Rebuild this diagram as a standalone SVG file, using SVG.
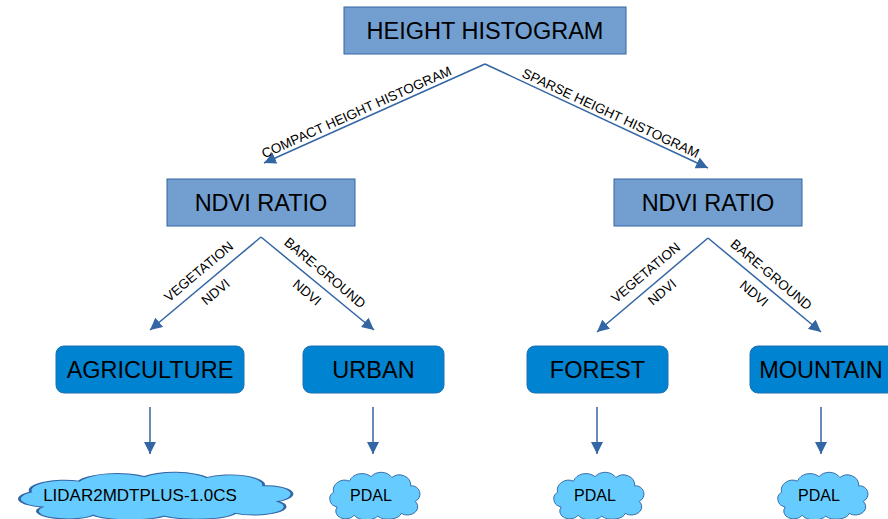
<svg xmlns="http://www.w3.org/2000/svg" width="888" height="519" viewBox="0 0 888 519">
<style>
.box{fill:#729fcf;stroke:#3465a4;stroke-width:1}
.leaf{fill:#0084d1;stroke:#1f6fb0;stroke-width:1}
.cloud{fill:#66ccff;stroke:#3465a4;stroke-width:1}
.t{font-family:"Liberation Sans",Arial,sans-serif;fill:#000;text-anchor:middle}
.big{font-size:23.5px}
.lbl{font-size:13.5px}
.cl{font-size:16px}
.edge{stroke:#3465a4;stroke-width:1.5;fill:none;marker-end:url(#ah)}
</style>
<defs>
<marker id="ah" markerUnits="userSpaceOnUse" markerWidth="12" markerHeight="12" refX="10" refY="5" orient="auto" viewBox="0 0 10 10">
<path d="M0,0 L10,5 L0,10 z" fill="#3465a4"/>
</marker>
<path id="cloudShape" d="M 12,38 A 10 9 0 0 1 8,22 A 12 11 0 0 1 25,10 A 14 12 0 0 1 48,5 A 13 11 0 0 1 70,6 A 12 11 0 0 1 90,15 A 9 9 0 0 1 95,32 A 11 9 0 0 1 80,45 A 14 8 0 0 1 55,48 A 14 8 0 0 1 30,47 A 10 8 0 0 1 12,38 Z"/>
</defs>
<rect width="888" height="519" fill="#fff"/>

<g id="connectors">
<path class="edge" d="M485,64 L264,163"/>
<path class="edge" d="M485,64 L708,168"/>
<path class="edge" d="M261,237 L150,330"/>
<path class="edge" d="M261,237 L374,330"/>
<path class="edge" d="M708,238 L597,332"/>
<path class="edge" d="M708,238 L821,332"/>
<path class="edge" d="M150,407 L150,454"/>
<path class="edge" d="M373,407 L373,454"/>
<path class="edge" d="M597,407 L597,454"/>
<path class="edge" d="M821,407 L821,454"/>
<g class="t lbl">
<text transform="translate(360,120) rotate(-24.1)" y="-4">COMPACT HEIGHT HISTOGRAM</text>
<text transform="translate(607,121) rotate(25)" y="-4">SPARSE HEIGHT HISTOGRAM</text>
<text transform="translate(261,237) rotate(-40)" x="-70" y="-9">VEGETATION</text>
<text transform="translate(261,237) rotate(-40)" x="-70" y="17.5">NDVI</text>
<text transform="translate(261,237) rotate(40)" x="72" y="-9">BARE-GROUND</text>
<text transform="translate(261,237) rotate(40)" x="71" y="17.5">NDVI</text>
<text transform="translate(708,238) rotate(-40)" x="-70" y="-9">VEGETATION</text>
<text transform="translate(708,238) rotate(-40)" x="-70" y="16.5">NDVI</text>
<text transform="translate(708,238) rotate(40)" x="72" y="-8">BARE-GROUND</text>
<text transform="translate(708,238) rotate(40)" x="71" y="17.5">NDVI</text>
</g>
</g>

<g id="height-histogram">
<rect class="box" x="344" y="7" width="282" height="47"/>
<text class="t big" x="485" y="39">HEIGHT HISTOGRAM</text>
</g>
<g id="ndvi-left">
<rect class="box" x="167" y="179" width="188" height="47"/>
<text class="t big" x="261" y="211">NDVI RATIO</text>
</g>
<g id="ndvi-right">
<rect class="box" x="614" y="179" width="188" height="47"/>
<text class="t big" x="708" y="211">NDVI RATIO</text>
</g>
<g id="agriculture">
<rect class="leaf" x="56" y="346" width="188" height="47" rx="8"/>
<text class="t big" x="150" y="378">AGRICULTURE</text>
</g>
<g id="urban">
<rect class="leaf" x="303" y="346" width="141" height="47" rx="8"/>
<text class="t big" x="373.5" y="378">URBAN</text>
</g>
<g id="forest">
<rect class="leaf" x="527" y="346" width="141" height="47" rx="8"/>
<text class="t big" x="597.5" y="378">FOREST</text>
</g>
<g id="mountain">
<rect class="leaf" x="750" y="346" width="145" height="47" rx="8"/>
<text class="t big" x="821" y="378">MOUNTAIN</text>
</g>

<g id="cloud-lidar">
<use href="#cloudShape" class="cloud" transform="translate(8,472) scale(2.84,0.92)" style="vector-effect:non-scaling-stroke"/>
<text class="t" style="font-size:17px" x="140" y="501">LIDAR2MDTPLUS-1.0CS</text>
</g>
<g id="cloud-pdal-urban">
<use href="#cloudShape" class="cloud" transform="translate(326,472) scale(0.94,0.92)"/>
<text class="t cl" x="371" y="501">PDAL</text>
</g>
<g id="cloud-pdal-forest">
<use href="#cloudShape" class="cloud" transform="translate(550,472) scale(0.94,0.92)"/>
<text class="t cl" x="595" y="501">PDAL</text>
</g>
<g id="cloud-pdal-mountain">
<use href="#cloudShape" class="cloud" transform="translate(774,472) scale(0.94,0.92)"/>
<text class="t cl" x="819" y="501">PDAL</text>
</g>
</svg>
